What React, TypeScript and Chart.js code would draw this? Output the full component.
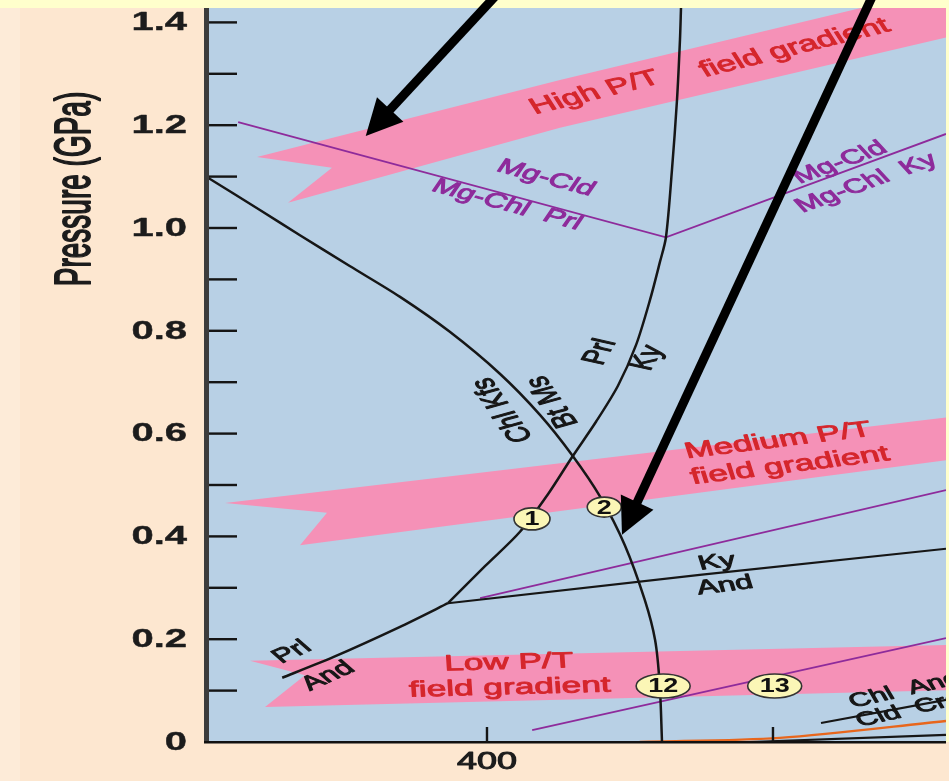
import { useEffect, useRef } from 'react';
import { Chart, registerables } from 'chart.js';

Chart.register(...registerables);

// ---------- axes (temperature °C, pressure GPa) ----------
const T_MIN = 351.4;
const T_MAX = 480.25;
const P_MIN = 0;
const P_MAX = 1.428;
const yTickValues = [0, 0.1, 0.2, 0.3, 0.4, 0.5, 0.6, 0.7, 0.8, 0.9, 1.0, 1.1, 1.2, 1.3, 1.4];
const yTickLabels = ['0', '', '0.2', '', '0.4', '', '0.6', '', '0.8', '', '1.0', '', '1.2', '', '1.4'];
const xTickValues = [400, 450];
const xTickLabels = ['400', ''];
const yAxisTitle = 'Pressure (GPa)';

// ---------- reaction curves ----------
const chlKfsT = [351.05, 360.3, 367.3, 376.0, 384.8, 393.5, 402.3, 409.3, 414.9, 419.8, 424.1, 427.6, 429.4, 430.2, 430.6];
const chlKfsP = [1.099, 1.035, 0.986, 0.926, 0.866, 0.798, 0.716, 0.636, 0.558, 0.477, 0.383, 0.276, 0.198, 0.111, 0.0];

const prlKyT = [393.18, 399.65, 405.77, 410.66, 414.86, 419.06, 422.9, 426.05, 428.5, 430.24, 431.29, 432.34, 433.22, 433.74, 433.92];
const prlKyP = [0.27, 0.342, 0.409, 0.482, 0.554, 0.623, 0.693, 0.772, 0.86, 0.934, 0.982, 1.113, 1.249, 1.366, 1.428];

const prlAndT = [364.2, 373.1, 384.8, 393.18];
const prlAndP = [0.125, 0.165, 0.224, 0.27];

const kyAndT = [393.18, 437.2, 480.25];
const kyAndP = [0.27, 0.325, 0.376];

const mgCldT = [356.5, 431.29, 480.25];
const mgCldP = [1.206, 0.982, 1.183];

const purpleMidT = [398.8, 480.25];
const purpleMidP = [0.28, 0.49];

const purpleLowT = [407.9, 480.25];
const purpleLowP = [0.023, 0.202];

const orangeT = [426.7, 451.2, 480.25];
const orangeP = [0.0, 0.008, 0.041];

const chlCldT = [458.4, 480.25];
const chlCldP = [0.037, 0.082];

const baseLineT = [446.0, 480.25];
const baseLineP = [0.0, 0.014];

// ---------- field-gradient bands (polygons) ----------
const bandHighT = [359.79, 412.76, 480.77, 480.77, 412.76, 365.21, 372.9];
const bandHighP = [1.138, 1.288, 1.469, 1.372, 1.195, 1.049, 1.117];
const bandMedT = [354.2, 480.77, 480.77, 367.31, 372.03];
const bandMedP = [0.465, 0.632, 0.549, 0.383, 0.446];
const bandLowT = [358.57, 480.77, 480.77, 361.19, 368.18];
const bandLowP = [0.158, 0.189, 0.101, 0.068, 0.13];

// ---------- labels ----------
const labelTexts = [
  'High P/T', 'field gradient', 'Medium P/T', 'field gradient', 'Low P/T', 'field gradient',
  'Mg-Cld', 'Mg-Chl  Prl', 'Mg-Cld', 'Mg-Chl  Ky',
  'Chl Kfs', 'Bt Ms', 'Prl', 'Ky', 'Ky', 'And', 'Prl', 'And', 'Chl  And', 'Cld  Crd',
];
const labelT = [418.9, 453.8, 450.9, 453.0, 403.8, 404.0, 410.3, 403.5, 461.7, 454.4, 402.8, 411.5, 419.8, 428.1, 440.2, 441.6, 365.9, 372.2, 463.5, 464.7];
const labelP = [1.263, 1.35, 0.586, 0.537, 0.154, 0.105, 1.097, 1.045, 1.127, 1.039, 0.646, 0.662, 0.759, 0.747, 0.35, 0.304, 0.175, 0.128, 0.076, 0.039];

const markerTexts = ['1', '2', '12', '13'];
const markerT = [407.87, 420.5, 430.8, 450.3];
const markerP = [0.434, 0.457, 0.109, 0.109];

const arrowTailT = [401.7, 467.5];
const arrowTailP = [1.454, 1.454];
const arrowTipT = [378.8, 423.6];
const arrowTipP = [1.179, 0.403];

// ---------- styles ----------
const PEACH = '#fde7d0';
const PEACH_LIGHT = '#fdebd8';
const BLUE = '#b8d0e5';
const PINK = '#f591b7';
const YELLOW = '#ffffcc';
const RED = '#d5262c';
const PURPLE = '#8e2b9b';
const INK = '#161616';
const FONT = '"Liberation Sans", Arial, Helvetica, sans-serif';
const SX = 1.6;

type LStyle = { angle: number; color: string; size: number; align?: CanvasTextAlign };
const labelStyles: LStyle[] = [
  { angle: -14, color: RED, size: 22 },
  { angle: -14, color: RED, size: 22 },
  { angle: -7, color: RED, size: 22 },
  { angle: -7, color: RED, size: 22 },
  { angle: -1.5, color: RED, size: 22 },
  { angle: -1.5, color: RED, size: 22 },
  { angle: 15, color: PURPLE, size: 20 },
  { angle: 15, color: PURPLE, size: 20 },
  { angle: -20, color: PURPLE, size: 20 },
  { angle: -20, color: PURPLE, size: 20, align: 'left' },
  { angle: -125, color: INK, size: 21 },
  { angle: -125, color: INK, size: 21 },
  { angle: -60, color: INK, size: 21 },
  { angle: -60, color: INK, size: 21 },
  { angle: -7, color: INK, size: 20 },
  { angle: -7, color: INK, size: 20 },
  { angle: -24, color: INK, size: 20 },
  { angle: -24, color: INK, size: 20 },
  { angle: -13, color: INK, size: 19, align: 'left' },
  { angle: -13, color: INK, size: 19, align: 'left' },
];
const markerRx = [18, 17, 27, 27];
const markerRy = [11, 10, 12, 12];

function zip(t: number[], p: number[]) {
  return t.map((v, i) => ({ x: v, y: p[i] }));
}

function stretchedText(
  ctx: CanvasRenderingContext2D, text: string, x: number, y: number,
  angleDeg: number, sx: number, font: string, color: string,
  align: CanvasTextAlign = 'center', strokeW = 0
) {
  const th = (angleDeg * Math.PI) / 180;
  const thp = Math.atan2(sx * Math.sin(th), Math.cos(th));
  ctx.save();
  ctx.translate(x, y);
  ctx.scale(sx, 1);
  ctx.rotate(thp);
  ctx.font = font;
  ctx.fillStyle = color;
  ctx.textAlign = align;
  ctx.textBaseline = 'middle';
  ctx.fillText(text, 0, 0);
  if (strokeW > 0) {
    ctx.lineWidth = strokeW;
    ctx.strokeStyle = color;
    ctx.lineJoin = 'round';
    ctx.strokeText(text, 0, 0);
  }
  ctx.restore();
}

const lineDs = (t: number[], p: number[], color: string, width: number, tension = 0) => ({
  data: zip(t, p),
  showLine: true,
  borderColor: color,
  borderWidth: width,
  pointRadius: 0,
  tension,
  fill: false,
  order: 1,
});

const decorPlugin = {
  id: 'decor',
  beforeDraw(chart: any) {
    const { ctx, chartArea: ca, width, height } = chart;
    ctx.save();
    ctx.fillStyle = PEACH;
    ctx.fillRect(0, 0, width, height);
    ctx.fillStyle = PEACH_LIGHT;
    ctx.fillRect(0, 0, 20, height);
    ctx.fillStyle = BLUE;
    ctx.fillRect(ca.left, ca.top, ca.right - ca.left, ca.bottom - ca.top);
    ctx.fillStyle = YELLOW;
    ctx.fillRect(0, 0, width, ca.top);
    ctx.fillRect(ca.right, 0, width - ca.right, ca.bottom);
    ctx.restore();
  },
  beforeDatasetsDraw(chart: any) {
    const { ctx, chartArea: ca, scales } = chart;
    const xs = scales.x, ys = scales.y;
    ctx.save();
    ctx.beginPath();
    ctx.rect(ca.left, ca.top, ca.right - ca.left, ca.bottom - ca.top);
    ctx.clip();
    ctx.fillStyle = PINK;
    const bands: [number[], number[]][] = [[bandHighT, bandHighP], [bandMedT, bandMedP], [bandLowT, bandLowP]];
    for (const [bt, bp] of bands) {
      ctx.beginPath();
      bt.forEach((t, i) => {
        const px = xs.getPixelForValue(t), py = ys.getPixelForValue(bp[i]);
        if (i === 0) ctx.moveTo(px, py); else ctx.lineTo(px, py);
      });
      ctx.closePath();
      ctx.fill();
    }
    ctx.restore();
  },
  afterDatasetsDraw(chart: any) {
    const { ctx, chartArea: ca, scales } = chart;
    const xs = scales.x, ys = scales.y;
    ctx.save();
    ctx.beginPath();
    ctx.rect(ca.left, ca.top, ca.right - ca.left, ca.bottom - ca.top);
    ctx.clip();
    labelTexts.forEach((txt, i) => {
      const st = labelStyles[i];
      stretchedText(ctx, txt, xs.getPixelForValue(labelT[i]), ys.getPixelForValue(labelP[i]),
        st.angle, SX, `${st.size}px ${FONT}`, st.color, st.align || 'center', 0.9);
    });
    markerTexts.forEach((txt, i) => {
      const cx = xs.getPixelForValue(markerT[i]), cy = ys.getPixelForValue(markerP[i]);
      ctx.beginPath();
      ctx.ellipse(cx, cy, markerRx[i], markerRy[i], 0, 0, Math.PI * 2);
      ctx.fillStyle = '#fbf6b6';
      ctx.fill();
      ctx.lineWidth = 1.6;
      ctx.strokeStyle = '#333';
      ctx.stroke();
      stretchedText(ctx, txt, cx, cy + 1, 0, 1.35, `bold 20px ${FONT}`, '#111');
    });
    ctx.restore();
  },
  afterDraw(chart: any) {
    const { ctx, chartArea: ca, scales } = chart;
    const xs = scales.x, ys = scales.y;
    ctx.save();
    // axis lines
    ctx.fillStyle = '#3c3c3c';
    ctx.fillRect(ca.left - 5, ca.top, 5, ca.bottom - ca.top + 1);
    ctx.fillStyle = '#111';
    ctx.fillRect(ca.left - 5, ca.bottom - 1, ca.right - ca.left + 5, 2.5);
    // y ticks + labels
    yTickValues.forEach((v, i) => {
      const py = ys.getPixelForValue(v);
      ctx.fillStyle = '#151515';
      if (v > 0) ctx.fillRect(ca.left, py - 1.2, 28, 2.4);
      if (yTickLabels[i]) {
        stretchedText(ctx, yTickLabels[i], 187, py + 1, 0, SX, `bold 25px ${FONT}`, '#1c1c1c', 'right', 0.4);
      }
    });
    // x ticks + labels
    xTickValues.forEach((v, i) => {
      const px = xs.getPixelForValue(v);
      ctx.fillStyle = '#151515';
      ctx.fillRect(px - 1.2, ca.bottom - 15, 2.4, 15);
      if (xTickLabels[i]) {
        stretchedText(ctx, xTickLabels[i], px, 762, 0, 1.5, `24px ${FONT}`, '#1c1c1c', 'center', 1.0);
      }
    });
    // axis title
    stretchedText(ctx, yAxisTitle, 76, 189, -90, 1.8, `28px ${FONT}`, '#1c1c1c', 'center', 1.1);
    // arrows
    arrowTailT.forEach((_, i) => {
      const x0 = xs.getPixelForValue(arrowTailT[i]), y0 = ys.getPixelForValue(arrowTailP[i]);
      const x1 = xs.getPixelForValue(arrowTipT[i]), y1 = ys.getPixelForValue(arrowTipP[i]);
      const dx = x1 - x0, dy = y1 - y0;
      const len = Math.hypot(dx, dy);
      const ux = dx / len, uy = dy / len;
      const headLen = 36, headHalf = 18;
      const bx = x1 - ux * headLen, by = y1 - uy * headLen;
      ctx.strokeStyle = '#000';
      ctx.lineWidth = 9;
      ctx.beginPath();
      ctx.moveTo(x0, y0);
      ctx.lineTo(bx + ux * 2, by + uy * 2);
      ctx.stroke();
      ctx.fillStyle = '#000';
      ctx.beginPath();
      ctx.moveTo(x1, y1);
      ctx.lineTo(bx - uy * headHalf, by + ux * headHalf);
      ctx.lineTo(bx + uy * headHalf, by - ux * headHalf);
      ctx.closePath();
      ctx.fill();
    });
    ctx.restore();
  },
};

export default function App() {
  const ref = useRef<HTMLCanvasElement>(null);
  useEffect(() => {
    document.body.style.margin = '0';
    const chart = new Chart(ref.current as HTMLCanvasElement, {
      type: 'scatter',
      data: {
        datasets: [
          lineDs(chlKfsT, chlKfsP, '#161616', 2.5, 0.3),
          lineDs(prlKyT, prlKyP, '#161616', 2.5, 0.3),
          lineDs(prlAndT, prlAndP, '#161616', 2.5, 0.2),
          lineDs(kyAndT, kyAndP, '#161616', 2.2, 0),
          lineDs(mgCldT, mgCldP, PURPLE, 1.8, 0),
          lineDs(purpleMidT, purpleMidP, PURPLE, 1.8, 0),
          lineDs(purpleLowT, purpleLowP, PURPLE, 1.8, 0),
          lineDs(orangeT, orangeP, '#e8661c', 2.4, 0.3),
          lineDs(chlCldT, chlCldP, '#161616', 2.2, 0),
          lineDs(baseLineT, baseLineP, '#161616', 2.2, 0),
        ] as any,
      },
      options: {
        responsive: false,
        animation: false,
        events: [],
        layout: { padding: { left: 0, right: 3, top: 8, bottom: 0 } },
        plugins: { legend: { display: false }, tooltip: { enabled: false }, title: { display: false } },
        scales: {
          x: {
            type: 'linear',
            min: T_MIN,
            max: T_MAX,
            grid: { display: false },
            border: { display: false },
            ticks: { display: false },
            afterFit: (s: any) => { s.height = 39; },
          },
          y: {
            type: 'linear',
            min: P_MIN,
            max: P_MAX,
            grid: { display: false },
            border: { display: false },
            ticks: { display: false },
            afterFit: (s: any) => { s.width = 209; },
          },
        },
      } as any,
      plugins: [decorPlugin as any],
    });
    return () => chart.destroy();
  }, []);
  return (
    <div style={{ position: 'fixed', left: 0, top: 0, width: 949, height: 781 }}>
      <canvas ref={ref} width={949} height={781} style={{ display: 'block', width: 949, height: 781 }} />
    </div>
  );
}
